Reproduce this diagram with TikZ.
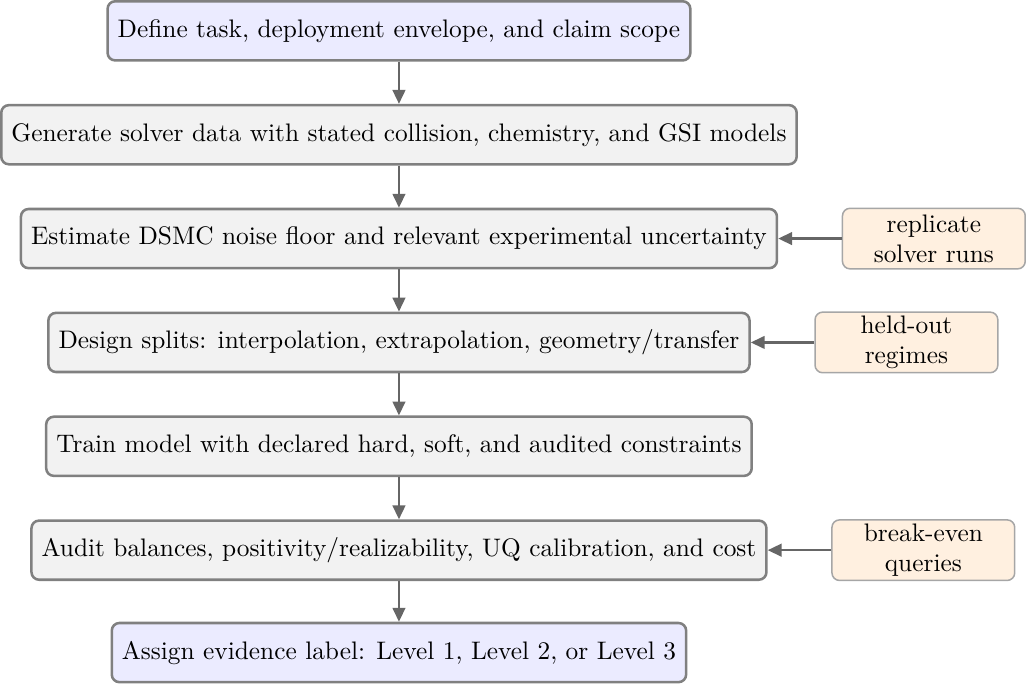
\documentclass[tikz,border=0pt]{standalone}
\usetikzlibrary{positioning,arrows.meta}

\tikzset{
    stage/.style={draw=gray, line width=1pt, rounded corners=3pt, fill=gray!10,
        inner xsep=4pt, minimum height=0.82cm},
    endstage/.style={stage, fill=blue!8},
    aside/.style={draw=gray!70, line width=0.6pt, rounded corners=3pt, fill=orange!12,
        align=center, text width=2.3cm, minimum height=0.84cm, inner ysep=1pt},
    flow/.style={-{Triangle[length=5.5pt,width=5pt]}, draw=gray!80!black, line width=0.9pt}
}

\begin{document}
\begin{tikzpicture}
    % Main pipeline
    \node[endstage] (task)  at (0,0)     {Define task, deployment envelope, and claim scope};
    \node[stage]    (gen)   at (0,-1.44) {Generate solver data with stated collision, chemistry, and GSI models};
    \node[stage]    (noise) at (0,-2.88) {Estimate DSMC noise floor and relevant experimental uncertainty};
    \node[stage]    (split) at (0,-4.32) {Design splits: interpolation, extrapolation, geometry/transfer};
    \node[stage]    (train) at (0,-5.76) {Train model with declared hard, soft, and audited constraints};
    \node[stage]    (audit) at (0,-7.20) {Audit balances, positivity/realizability, UQ calibration, and cost};
    \node[endstage] (label) at (0,-8.62) {Assign evidence label: Level 1, Level 2, or Level 3};

    % Side inputs
    \node[aside, right=0.88cm of noise] (rep)   {replicate\\solver runs};
    \node[aside, right=0.88cm of split] (held)  {held-out\\regimes};
    \node[aside, right=0.88cm of audit] (query) {break-even\\queries};

    % Arrows
    \draw[flow] (task) -- (gen);
    \draw[flow] (gen) -- (noise);
    \draw[flow] (noise) -- (split);
    \draw[flow] (split) -- (train);
    \draw[flow] (train) -- (audit);
    \draw[flow] (audit) -- (label);
    \draw[flow] (rep) -- (noise);
    \draw[flow] (held) -- (split);
    \draw[flow] (query) -- (audit);
\end{tikzpicture}
\end{document}
